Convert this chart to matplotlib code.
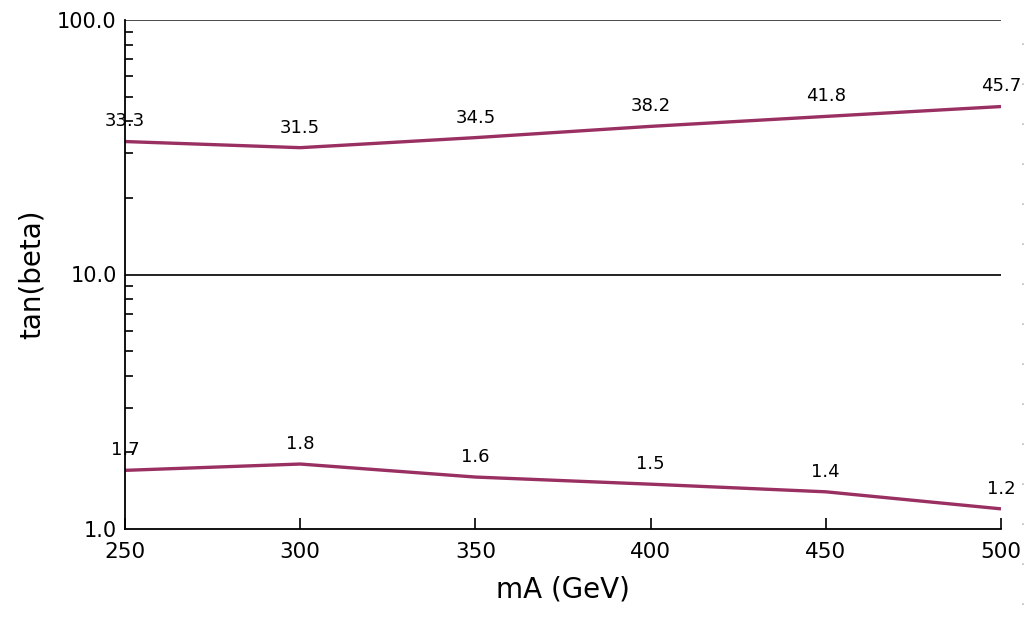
import matplotlib
matplotlib.use("Agg")
import matplotlib.pyplot as plt
from matplotlib.lines import Line2D
from matplotlib.ticker import FixedLocator, LogLocator, NullFormatter

# --- data ---
MA = [250, 300, 350, 400, 450, 500]
TANB_HIGH = [33.3, 31.5, 34.5, 38.2, 41.8, 45.7]
TANB_LOW = [1.7, 1.8, 1.6, 1.5, 1.4, 1.2]
X_TICKS = [250, 300, 350, 400, 450, 500]
Y_TICKS = [1.0, 10.0, 100.0]
Y_TICK_LABELS = ["1.0", "10.0", "100.0"]

LINE_COLOR = "#9a2f62"

fig = plt.figure(figsize=(10.31, 6.17), dpi=100)
ax = fig.add_axes([125 / 1031, 88 / 617, 876 / 1031, 509 / 617])

for series in (TANB_HIGH, TANB_LOW):
    ax.plot(MA, series, color=LINE_COLOR, lw=2.4, solid_capstyle="butt")
    for x, y in zip(MA, series):
        ax.annotate(f"{y:.1f}", (x, y), xytext=(0, 8), textcoords="offset points",
                    ha="center", va="bottom", fontsize=13, color="black")

ax.set_yscale("log")
ax.set_xlim(250, 500)
ax.set_ylim(1, 100)

# horizontal lines at decades
for yv in (10, 100):
    ax.axhline(yv, color="#222222" if yv == 10 else "#4a4a4a", lw=1.4, zorder=1)

ax.spines["top"].set_visible(False)
ax.spines["right"].set_visible(False)
ax.spines["left"].set_linewidth(1.3)
ax.spines["bottom"].set_linewidth(1.3)

ax.xaxis.set_major_locator(FixedLocator(X_TICKS))
ax.set_xticklabels([str(v) for v in X_TICKS])
ax.yaxis.set_major_locator(FixedLocator(Y_TICKS))
ax.set_yticklabels(Y_TICK_LABELS)
ax.yaxis.set_minor_locator(LogLocator(base=10, subs=range(2, 10)))
ax.yaxis.set_minor_formatter(NullFormatter())

ax.tick_params(axis="x", direction="in", length=8, width=1.2, labelsize=15.5, pad=9)
ax.tick_params(axis="y", which="major", direction="in", length=0, labelsize=15, pad=6)
ax.tick_params(axis="y", which="minor", direction="in", length=6, width=1.2)

ax.set_xlabel("mA (GeV)", fontsize=20, labelpad=10)
ax.set_ylabel("tan(beta)", fontsize=20, labelpad=8)

# faint dotted column at right edge
fig.add_artist(Line2D([1023 / 1031, 1023 / 1031], [0.02, 0.98], transform=fig.transFigure,
                      color="#bbbbbb", lw=1.2, linestyle=(0, (1, 23))))

fig.savefig("out.png", dpi=100)
